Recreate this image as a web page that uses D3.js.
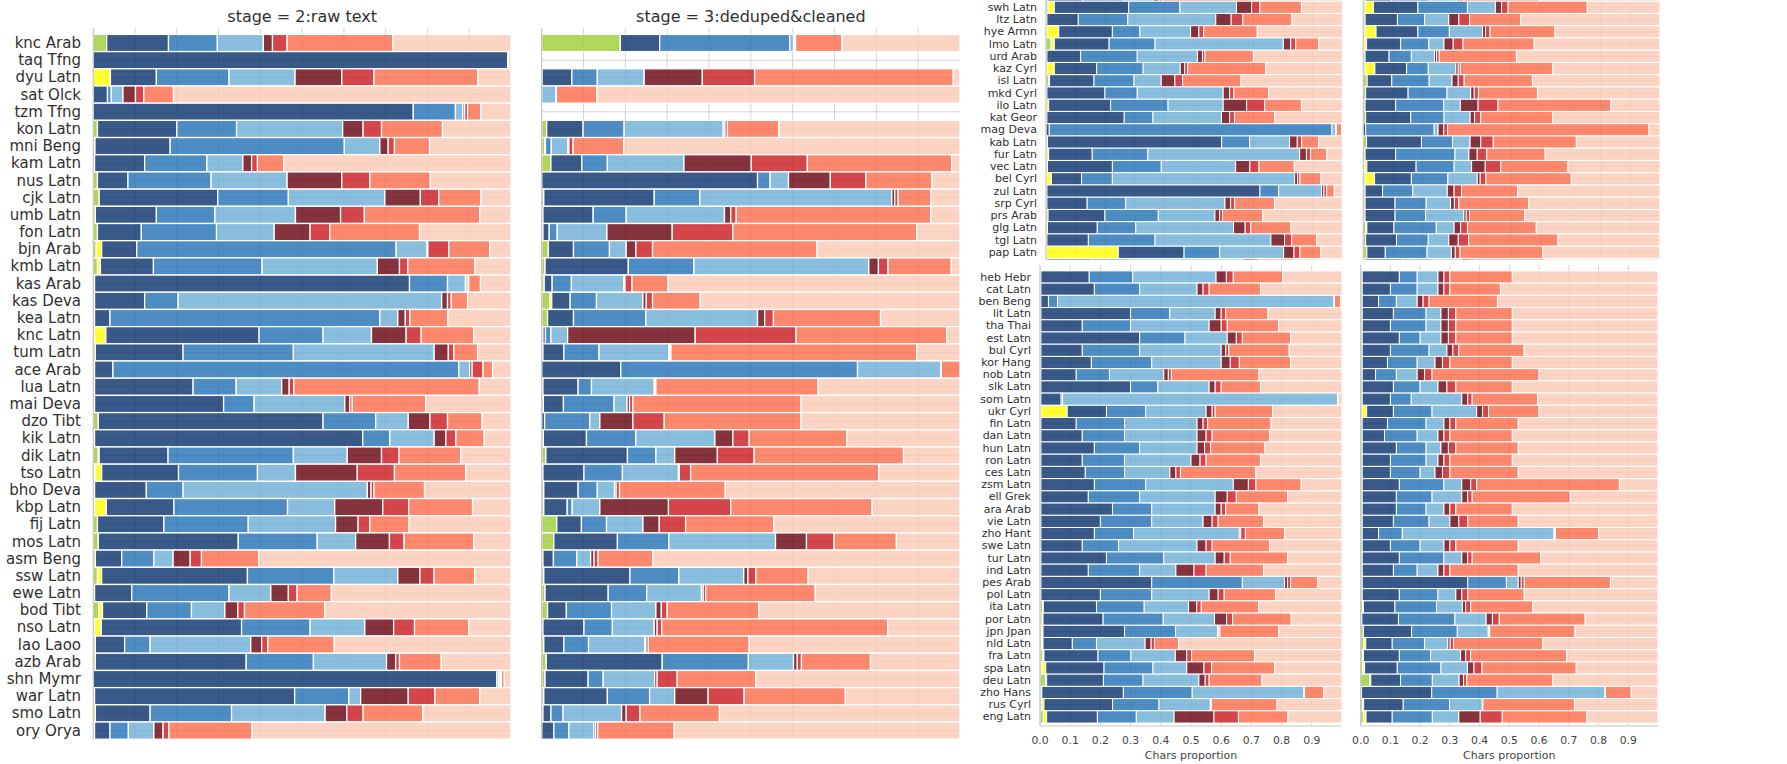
<!DOCTYPE html>
<html>
<head>
<meta charset="utf-8">
<script src="https://cdn.jsdelivr.net/npm/d3@7"></script>
<style>
  body { margin: 0; background: #fff; }
  svg { display: block; }
  text { font-family: "DejaVu Sans", sans-serif; fill: #303030; }
</style>
</head>
<body>
<svg id="chart" width="1787" height="764"></svg>
<script>
// Share of characters per bucket (percent). Each row lists the first eight
// buckets; the ninth bucket is whatever remains up to 100 %.
const bucketColors = ["#9acd32", "#ffff00", "#08306b", "#2171b5", "#6baed6",
                      "#67000d", "#cb181d", "#fb6a4a", "#fbc9b5"];

const lowResourceLabels = [
  "knc Arab", "taq Tfng", "dyu Latn", "sat Olck", "tzm Tfng", "kon Latn", "mni Beng",
  "kam Latn", "nus Latn", "cjk Latn", "umb Latn", "fon Latn", "bjn Arab", "kmb Latn",
  "kas Arab", "kas Deva", "kea Latn", "knc Latn", "tum Latn", "ace Arab", "lua Latn",
  "mai Deva", "dzo Tibt", "kik Latn", "dik Latn", "tso Latn", "bho Deva", "kbp Latn",
  "fij Latn", "mos Latn", "asm Beng", "ssw Latn", "ewe Latn", "bod Tibt", "nso Latn",
  "lao Laoo", "azb Arab", "shn Mymr", "war Latn", "smo Latn", "ory Orya"
];

const rawTextShares = [
  [3.2, 0, 14.8, 11.7, 11.0, 2.2, 3.5, 25.3],
  [0, 0, 99.2, 0.1, 0.1, 0, 0, 0],
  [0, 4.1, 11.0, 17.4, 15.8, 11.2, 7.7, 24.9],
  [0, 0, 3.4, 0.9, 2.8, 3.0, 2.0, 7.1],
  [0, 0, 76.6, 10.1, 1.8, 0.4, 0.7, 3.2],
  [1.0, 0, 19.0, 14.3, 25.4, 4.9, 4.4, 14.6],
  [0.4, 0, 18.0, 41.7, 8.5, 2.0, 1.5, 8.4],
  [0.3, 0, 12.0, 14.9, 8.6, 2.1, 1.4, 6.3],
  [1.0, 0, 7.3, 19.9, 18.2, 13.1, 6.7, 14.5],
  [1.4, 0, 28.4, 16.9, 23.1, 8.5, 4.4, 10.1],
  [0.5, 0, 14.6, 14.0, 19.3, 10.8, 5.7, 27.6],
  [1.0, 0, 10.5, 18.0, 13.8, 8.6, 4.7, 21.5],
  [0.7, 1.3, 8.4, 62.1, 7.4, 0.2, 5.0, 9.8],
  [1.0, 0.7, 12.7, 26.0, 27.6, 5.3, 2.0, 16.1],
  [0.3, 0, 75.4, 9.1, 4.3, 0.4, 0.4, 2.8],
  [0.3, 0, 12.0, 8.0, 63.1, 1.4, 0.9, 3.9],
  [0.3, 0, 3.7, 64.6, 4.3, 1.8, 1.1, 9.1],
  [0.3, 2.7, 36.7, 15.3, 11.6, 8.3, 3.6, 12.6],
  [0.5, 0, 21.0, 26.4, 33.7, 3.4, 1.3, 5.7],
  [0.3, 0, 4.4, 82.8, 2.6, 0.6, 2.6, 2.3],
  [0.3, 0, 23.6, 10.3, 10.9, 1.8, 1.1, 44.4],
  [0.3, 0, 30.9, 7.3, 21.7, 1.2, 0.6, 17.6],
  [1.2, 0, 53.8, 12.6, 7.8, 5.2, 4.2, 8.3],
  [0.3, 0, 64.2, 6.5, 10.6, 2.8, 2.4, 6.8],
  [1.2, 0.2, 16.5, 30.0, 12.9, 8.2, 4.2, 14.8],
  [0.4, 1.6, 18.4, 18.9, 9.1, 14.8, 8.9, 17.1],
  [0.3, 0, 12.4, 8.8, 44.1, 0.9, 0.7, 12.1],
  [0.3, 2.8, 16.2, 27.2, 11.3, 11.5, 6.2, 15.3],
  [1.0, 0, 15.9, 20.2, 20.9, 5.4, 2.8, 9.4],
  [1.2, 0, 33.5, 18.9, 9.2, 8.1, 3.5, 16.7],
  [0.5, 0, 6.3, 7.7, 4.6, 4.1, 2.7, 13.7],
  [1.0, 1.0, 34.9, 20.7, 15.3, 5.3, 3.4, 9.7],
  [0.3, 0, 8.9, 23.3, 10.0, 4.2, 2.1, 8.2],
  [1.3, 0.9, 10.6, 10.7, 8.0, 3.1, 1.6, 19.2],
  [0.3, 1.6, 33.6, 16.4, 13.1, 6.9, 5.0, 13.0],
  [0.5, 0, 7.0, 6.1, 24.1, 2.6, 1.5, 15.9],
  [0.5, 0, 36.1, 16.1, 17.5, 2.2, 0.9, 10.0],
  [0, 0, 96.6, 0.4, 0.4, 0.1, 0.2, 0.7],
  [0.3, 0, 47.9, 13.0, 2.8, 11.4, 6.4, 10.7],
  [0.5, 0, 13.1, 19.5, 22.4, 5.2, 3.9, 14.3],
  [0.3, 0, 3.7, 4.4, 6.1, 2.2, 1.4, 19.9]
];

const cleanedShares = [
  [18.8, 0, 9.4, 31.1, 0.9, 0.2, 0.3, 11.1],
  null,
  [0.1, 0, 7.1, 6.1, 11.2, 13.9, 12.5, 47.5],
  [0, 0, 0, 0, 3.4, 0, 0.1, 9.7],
  null,
  [1.2, 0, 8.7, 9.8, 23.7, 0.4, 0.6, 12.3],
  [0.7, 0, 0.2, 1.4, 4.0, 0.2, 1.0, 12.1],
  [2.2, 0, 7.4, 6.1, 18.3, 16.1, 13.4, 34.5],
  [0, 0, 51.6, 3.0, 4.4, 10.0, 8.5, 15.8],
  [0.5, 0, 26.4, 10.9, 45.9, 0.7, 0.8, 7.9],
  [0.3, 0, 12.0, 7.9, 23.5, 1.5, 1.3, 46.5],
  [0.3, 0, 1.5, 1.9, 11.9, 15.6, 14.5, 44.0],
  [1.6, 0, 6.0, 8.6, 4.0, 2.3, 4.0, 39.3],
  [0.8, 0, 19.9, 15.7, 41.8, 2.3, 2.3, 15.1],
  [0.6, 0, 1.9, 4.6, 12.5, 0.3, 1.7, 8.6],
  [1.9, 0.5, 4.4, 6.3, 11.1, 0.8, 1.5, 11.4],
  [1.4, 0, 6.2, 17.3, 26.7, 1.7, 2.1, 25.6],
  [0.3, 0, 0.6, 1.3, 4.0, 30.5, 24.1, 36.0],
  [0.3, 0, 5.0, 8.4, 16.7, 0.2, 0.3, 58.8],
  [0, 0, 18.9, 56.6, 19.9, 0.05, 0.05, 4.5],
  [0.3, 0, 8.4, 3.2, 15.0, 0.1, 0.3, 38.8],
  [0.4, 0, 4.8, 12.1, 3.1, 0.6, 0.8, 40.2],
  [0, 0, 0.7, 10.8, 2.4, 7.9, 7.5, 32.7],
  [0.4, 0, 10.3, 11.8, 18.9, 4.3, 3.9, 23.4],
  [1.0, 0, 19.5, 6.8, 4.5, 10.2, 8.8, 35.7],
  [0.3, 0, 9.8, 9.2, 13.4, 0.2, 2.7, 45.0],
  [0.5, 0, 8.2, 4.6, 4.1, 0.4, 0.8, 25.3],
  [0.5, 0, 5.6, 1.2, 6.6, 16.4, 14.9, 33.8],
  [3.6, 0, 5.9, 6.0, 8.7, 3.9, 6.3, 21.1],
  [2.9, 0, 15.2, 12.3, 25.5, 7.4, 6.6, 14.9],
  [0.3, 0, 2.5, 5.6, 3.3, 0.8, 1.0, 13.1],
  [0.5, 0, 20.6, 11.7, 15.5, 1.0, 1.9, 12.5],
  [0.8, 0, 15.1, 9.2, 13.1, 0.4, 0.6, 26.2],
  [1.4, 0, 4.5, 10.8, 10.6, 1.3, 1.4, 21.9],
  [0.3, 0, 9.8, 6.8, 10.0, 0.7, 1.1, 54.0],
  [0.5, 0, 4.8, 5.9, 13.4, 0.3, 0.6, 24.1],
  [1.1, 0, 27.7, 20.6, 10.8, 0.9, 1.0, 16.5],
  [0.8, 0, 10.3, 3.6, 12.3, 0.6, 4.8, 18.8],
  [0.5, 0, 15.2, 10.1, 6.0, 8.0, 8.6, 24.2],
  [0.3, 0, 1.9, 2.9, 14.0, 1.1, 3.3, 19.0],
  [0, 0, 2.9, 3.6, 6.0, 0.4, 0.5, 18.3]
];

const midResourceLabels = [
  "", "swh Latn", "ltz Latn", "hye Armn", "lmo Latn", "urd Arab", "kaz Cyrl", "isl Latn",
  "mkd Cyrl", "ilo Latn", "kat Geor", "mag Deva", "kab Latn", "fur Latn", "vec Latn",
  "bel Cyrl", "zul Latn", "srp Cyrl", "prs Arab", "glg Latn", "tgl Latn", "pap Latn", ""
];

const midRawShares = [
  [0.3, 0, 12.0, 14.0, 10.0, 2.0, 1.0, 30.0],
  [0.7, 2.1, 25.1, 17.3, 19.1, 5.1, 2.8, 14.0],
  [0.3, 0, 10.6, 16.7, 29.7, 5.2, 3.9, 16.6],
  [0.3, 4.0, 18.1, 9.3, 17.1, 2.8, 1.6, 18.1],
  [1.7, 1.1, 18.5, 15.5, 43.3, 2.5, 1.7, 7.7],
  [0.3, 0, 11.4, 19.1, 20.3, 1.7, 0.8, 16.4],
  [0.3, 2.5, 14.3, 15.7, 12.5, 1.5, 1.0, 26.4],
  [1.0, 0.2, 15.0, 13.5, 9.2, 4.6, 2.6, 19.7],
  [0.3, 0, 19.6, 10.9, 29.0, 2.2, 1.4, 11.7],
  [0.1, 0.8, 20.9, 19.4, 18.6, 7.9, 6.1, 12.4],
  [0.3, 0, 26.1, 9.7, 23.1, 2.8, 1.6, 13.6],
  [0, 0, 1.1, 95.4, 1.3, 0.1, 0.1, 1.8],
  [0.5, 0, 58.8, 9.4, 13.5, 2.6, 1.5, 5.7],
  [0.2, 0.7, 14.7, 18.8, 51.2, 2.3, 1.4, 5.5],
  [0.5, 0, 21.9, 16.5, 25.1, 4.8, 3.1, 11.9],
  [0.2, 1.6, 10.2, 10.4, 61.5, 1.0, 0.8, 7.1],
  [0.3, 0, 71.9, 6.3, 14.5, 0.8, 0.9, 2.6],
  [0.3, 0, 13.6, 13.0, 33.5, 1.9, 1.4, 13.4],
  [0.7, 0, 19.2, 18.0, 19.1, 1.6, 1.0, 13.6],
  [0.5, 0, 16.8, 13.0, 33.0, 3.9, 1.9, 13.6],
  [0.3, 0, 14.0, 22.5, 39.1, 4.6, 2.4, 8.4],
  [0.2, 24.2, 22.2, 12.0, 21.6, 3.5, 2.0, 7.1],
  [0.3, 0, 15.1, 12.8, 38.3, 4.0, 1.5, 11.6]
];

const midCleanedShares = [
  [0.5, 0, 9.0, 13.0, 9.0, 1.0, 1.0, 26.0],
  [0.6, 2.8, 15.0, 16.7, 9.4, 2.1, 2.2, 26.7],
  [0.6, 0, 10.9, 9.2, 8.1, 3.4, 3.6, 17.2],
  [0.6, 3.7, 14.1, 10.6, 11.2, 1.0, 1.5, 21.9],
  [0.4, 0.7, 11.5, 9.5, 5.1, 3.1, 3.3, 24.0],
  [0.6, 0, 8.1, 7.5, 7.8, 0.7, 0.9, 26.0],
  [0.6, 3.3, 10.7, 7.3, 9.3, 0.8, 0.7, 31.2],
  [1.3, 0, 8.3, 12.6, 7.7, 2.1, 2.0, 23.0],
  [0.8, 0, 14.3, 13.1, 8.0, 1.2, 1.4, 19.9],
  [0.6, 0, 10.3, 16.2, 5.6, 6.0, 6.7, 38.1],
  [0.8, 0, 15.2, 11.2, 8.8, 1.5, 2.1, 24.2],
  [0, 0, 0.8, 23.1, 1.3, 1.9, 1.3, 67.9],
  [1.1, 0, 18.5, 10.5, 5.9, 3.6, 4.2, 28.0],
  [0.6, 0, 10.3, 20.0, 4.7, 2.8, 3.2, 19.7],
  [0.4, 0.8, 16.6, 12.8, 5.9, 4.6, 5.2, 22.7],
  [0.6, 3.2, 12.4, 12.3, 9.9, 1.0, 1.9, 28.8],
  [0.6, 0, 5.9, 10.2, 11.6, 2.3, 2.5, 18.9],
  [0.6, 0, 10.1, 10.5, 8.2, 1.3, 1.5, 23.6],
  [0.6, 0, 10.1, 10.3, 12.9, 0.8, 1.1, 18.6],
  [0.8, 0.4, 9.1, 14.3, 6.0, 2.2, 2.3, 23.2],
  [0.8, 0, 10.4, 10.7, 6.9, 3.2, 3.5, 30.1],
  [1.2, 0, 6.2, 14.1, 8.2, 1.3, 1.6, 27.8],
  [0.6, 0, 12.6, 10.1, 9.8, 2.4, 2.0, 23.9]
];

const highResourceLabels = [
  "heb Hebr", "cat Latn", "ben Beng", "lit Latn", "tha Thai", "est Latn", "bul Cyrl",
  "kor Hang", "nob Latn", "slk Latn", "som Latn", "ukr Cyrl", "fin Latn", "dan Latn",
  "hun Latn", "ron Latn", "ces Latn", "zsm Latn", "ell Grek", "ara Arab", "vie Latn",
  "zho Hant", "swe Latn", "tur Latn", "ind Latn", "pes Arab", "pol Latn", "ita Latn",
  "por Latn", "jpn Jpan", "nld Latn", "fra Latn", "spa Latn", "deu Latn", "zho Hans",
  "rus Cyrl", "eng Latn"
];

const highRawShares = [
  [0.3, 0, 16.0, 14.4, 27.6, 3.4, 2.3, 16.3],
  [0.3, 0, 17.7, 15.0, 19.0, 2.0, 2.0, 17.0],
  [0.3, 0, 2.5, 3.0, 91.5, 0, 0.2, 2.0],
  [0.3, 0, 29.7, 13.0, 15.0, 2.0, 1.5, 14.0],
  [0.3, 0, 13.7, 16.0, 26.0, 4.0, 2.0, 17.0],
  [0.3, 0, 32.7, 15.0, 14.0, 3.0, 2.0, 16.0],
  [0.3, 0, 13.7, 19.0, 27.0, 1.5, 1.0, 20.0],
  [0.3, 0, 16.7, 20.0, 23.0, 3.0, 3.0, 17.0],
  [0.3, 0, 11.7, 11.0, 18.0, 1.5, 1.0, 29.0],
  [0.3, 0, 29.7, 9.0, 17.0, 2.0, 2.0, 13.0],
  [0.3, 0, 6.7, 0.5, 91.0, 0, 0, 0.2],
  [0.3, 8.7, 13.0, 13.0, 20.0, 2.0, 1.0, 19.0],
  [0.3, 0, 11.7, 16.0, 24.0, 2.0, 1.5, 21.0],
  [0.3, 0, 13.7, 14.0, 24.0, 3.0, 2.0, 19.0],
  [0.3, 0, 17.7, 15.0, 19.0, 2.5, 2.0, 18.0],
  [0.3, 0, 13.7, 14.0, 22.0, 3.0, 2.0, 18.0],
  [0.3, 0, 14.7, 13.0, 15.0, 2.0, 1.5, 25.0],
  [0.3, 0, 17.7, 17.0, 29.0, 5.0, 2.5, 15.0],
  [0.3, 0, 15.7, 17.0, 25.0, 4.0, 3.0, 17.0],
  [0.3, 0, 23.7, 13.0, 21.0, 2.0, 1.5, 11.0],
  [0.3, 0, 19.7, 17.0, 17.0, 3.0, 2.0, 15.0],
  [0.3, 0, 17.7, 13.0, 35.0, 0.5, 1.5, 13.0],
  [0.3, 0, 13.7, 12.0, 26.0, 3.0, 2.0, 19.0],
  [0.3, 0, 21.7, 19.0, 17.0, 3.0, 2.0, 19.0],
  [0.3, 0, 15.7, 17.0, 12.0, 6.0, 4.0, 19.0],
  [0.3, 0, 36.7, 30.0, 14.0, 1.0, 1.0, 9.0],
  [0.3, 0, 19.7, 17.0, 19.0, 3.0, 2.0, 17.0],
  [0.8, 0.3, 17.6, 15.8, 14.7, 2.7, 1.5, 19.0],
  [0.7, 0.3, 19.9, 19.9, 17.0, 4.0, 2.0, 19.4],
  [0.6, 0.4, 27.0, 16.9, 13.9, 0.4, 0.4, 19.5],
  [0.6, 0.4, 9.7, 8.0, 16.1, 2.0, 1.1, 8.0],
  [0.9, 0.4, 17.9, 10.9, 14.7, 3.8, 1.6, 20.9],
  [0.6, 1.3, 19.3, 16.2, 11.2, 5.7, 2.5, 20.9],
  [1.8, 0.4, 18.8, 13.1, 18.5, 2.1, 1.3, 17.5],
  [0.4, 0.2, 27.0, 22.8, 37.0, 0.1, 0.1, 6.4],
  [0.5, 0.8, 22.7, 15.4, 17.0, 0.2, 0.2, 21.7],
  [1.1, 1.1, 16.8, 12.9, 12.5, 13.2, 8.1, 16.4]
];

const highCleanedShares = [
  [0.5, 0, 12.5, 6.0, 7.0, 2.0, 2.0, 21.0],
  [0.5, 0, 9.5, 9.0, 7.0, 2.0, 2.0, 17.0],
  [0.5, 0, 5.5, 6.0, 7.0, 2.0, 2.0, 23.0],
  [0.5, 0, 10.5, 11.0, 5.0, 2.5, 2.5, 19.0],
  [0.5, 0, 9.5, 12.0, 5.0, 2.5, 2.5, 19.0],
  [0.5, 0, 12.5, 7.0, 7.0, 2.5, 2.5, 19.0],
  [0.5, 0, 9.5, 13.0, 6.0, 2.0, 2.0, 22.0],
  [0.5, 0, 8.5, 10.0, 6.0, 2.5, 2.5, 21.0],
  [0.5, 0, 4.5, 7.0, 7.0, 2.5, 2.5, 36.0],
  [0.5, 0, 10.5, 9.0, 6.0, 3.0, 3.0, 19.0],
  [0.5, 0, 9.5, 7.0, 17.0, 2.0, 1.5, 22.0],
  [0.5, 1.5, 9.0, 13.0, 15.0, 2.0, 2.0, 17.0],
  [0.5, 0, 8.5, 13.0, 6.0, 2.0, 2.0, 21.0],
  [0.5, 0, 7.5, 11.0, 7.0, 2.0, 2.0, 21.0],
  [0.5, 0, 11.5, 10.0, 5.0, 2.5, 2.5, 21.0],
  [0.5, 0, 9.5, 12.0, 4.0, 2.0, 2.0, 21.0],
  [0.5, 0, 9.5, 10.0, 5.0, 2.5, 2.5, 23.0],
  [0.5, 0, 12.5, 15.0, 6.0, 3.0, 2.0, 48.0],
  [0.5, 0, 11.5, 12.0, 10.0, 2.0, 1.5, 33.0],
  [0.5, 0, 11.5, 10.0, 6.0, 2.0, 2.0, 19.0],
  [0.5, 0, 10.5, 12.0, 7.0, 3.0, 3.0, 17.0],
  [0.5, 0, 5.5, 8.0, 51.0, 0.2, 0.3, 14.5],
  [0.5, 0, 9.5, 10.0, 8.0, 2.0, 2.0, 21.0],
  [0.5, 0, 12.5, 15.0, 6.0, 2.0, 1.5, 23.0],
  [0.5, 0, 10.5, 8.0, 7.0, 2.0, 2.0, 23.0],
  [0.5, 0, 35.5, 13.0, 4.0, 1.0, 1.0, 29.0],
  [0.5, 0, 12.5, 13.0, 6.0, 2.0, 2.0, 19.0],
  [0.6, 0.3, 10.6, 14.0, 8.7, 1.1, 1.7, 20.9],
  [0.4, 0, 12.3, 19.0, 10.5, 2.1, 2.3, 28.9],
  [0.9, 0, 16.2, 15.4, 10.4, 0.2, 0.3, 28.7],
  [1.0, 0.7, 8.9, 10.9, 7.8, 0.8, 1.1, 30.1],
  [0.6, 0.3, 12.1, 10.5, 10.1, 1.7, 1.7, 32.3],
  [0.7, 0.6, 11.0, 14.7, 8.9, 2.2, 2.7, 31.7],
  [3.0, 0.4, 10.0, 10.7, 9.0, 1.5, 1.1, 28.8],
  [0.3, 0, 23.6, 22.0, 36.3, 0.05, 0.05, 8.7],
  [0.7, 0.3, 13.3, 15.6, 11.0, 0.1, 0.1, 30.8],
  [0.9, 0.9, 8.8, 13.5, 8.9, 7.2, 7.4, 28.5]
];

const xTickValues = [0, 0.1, 0.2, 0.3, 0.4, 0.5, 0.6, 0.7, 0.8, 0.9];
const xAxisTitle = "Chars proportion";

const svg = d3.select("#chart");
let clipCount = 0;

function drawPanel(cfg) {
  const g = svg.append("g");
  if (cfg.clip) {
    const id = "clip" + (clipCount++);
    svg.append("clipPath").attr("id", id).append("rect")
      .attr("x", cfg.clip[0]).attr("y", cfg.clip[1])
      .attr("width", cfg.clip[2]).attr("height", cfg.clip[3]);
    g.attr("clip-path", `url(#${id})`);
  }
  const n = cfg.rows.length;
  const x = d3.scaleLinear().domain([0, 1]).range([cfg.x0, cfg.x1]);
  const y = d3.scaleBand().domain(d3.range(n))
    .range([cfg.yFirst - cfg.step / 2, cfg.yFirst - cfg.step / 2 + n * cfg.step])
    .padding(0);

  // grid
  g.append("g").selectAll("line").data(xTickValues.slice(1)).join("line")
    .attr("x1", d => x(d)).attr("x2", d => x(d))
    .attr("y1", cfg.axisTop).attr("y2", cfg.axisBottom)
    .attr("stroke", "#d4d4d4").attr("stroke-width", 1);
  g.append("g").selectAll("line").data(d3.range(n)).join("line")
    .attr("x1", cfg.x0).attr("x2", x(1))
    .attr("y1", i => y(i) + y.bandwidth() / 2).attr("y2", i => y(i) + y.bandwidth() / 2)
    .attr("stroke", "#d4d4d4").attr("stroke-width", 1);

  // stacked bars
  const segs = [];
  cfg.rows.forEach((row, i) => {
    if (!row) return;
    const vals = row.concat([Math.max(0, 100 - d3.sum(row))]);
    let acc = 0;
    vals.forEach((v, k) => {
      if (v > 0) segs.push({ i, k, start: acc / 100, end: (acc + v) / 100 });
      acc += v;
    });
  });
  g.append("g").selectAll("rect").data(segs).join("rect")
    .attr("x", d => x(d.start))
    .attr("width", d => Math.max(0, x(d.end) - x(d.start)))
    .attr("y", d => y(d.i))
    .attr("height", y.bandwidth())
    .attr("fill", d => bucketColors[d.k])
    .attr("fill-opacity", 0.8)
    .attr("stroke", "#ffffff")
    .attr("stroke-width", cfg.edge);

  // left spine
  g.append("line").attr("x1", cfg.x0).attr("x2", cfg.x0)
    .attr("y1", cfg.axisTop).attr("y2", cfg.axisBottom)
    .attr("stroke", "#c4c4c4").attr("stroke-width", 1.2);

  if (cfg.labels) {
    g.append("g").selectAll("text").data(cfg.labels).join("text")
      .attr("x", cfg.labelX)
      .attr("y", (d, i) => y(i) + y.bandwidth() / 2)
      .attr("text-anchor", "end")
      .attr("dominant-baseline", "central")
      .style("font-size", cfg.labelSize + "px")
      .text(d => d);
  }

  if (cfg.title) {
    svg.append("text").attr("x", (cfg.x0 + cfg.x1) / 2).attr("y", 21.5)
      .attr("text-anchor", "middle").style("font-size", "16px").text(cfg.title);
  }

  if (cfg.xAxis) {
    svg.append("line").attr("x1", cfg.x0).attr("x2", x(1))
      .attr("y1", cfg.axisBottom).attr("y2", cfg.axisBottom)
      .attr("stroke", "#c4c4c4").attr("stroke-width", 1.2);
    svg.append("g").selectAll("text").data(xTickValues).join("text")
      .attr("x", d => x(d)).attr("y", cfg.axisBottom + 18)
      .attr("text-anchor", "middle").style("font-size", "10.8px")
      .style("fill", "#444")
      .text(d => d3.format(".1f")(d));
    svg.append("text").attr("x", x(0.5)).attr("y", cfg.axisBottom + 33)
      .attr("text-anchor", "middle").style("font-size", "11px")
      .style("fill", "#444").text(xAxisTitle);
  }
}

// Low-resource languages, both stages
drawPanel({ rows: rawTextShares, labels: lowResourceLabels, labelX: 81, labelSize: 15,
  x0: 93.3, x1: 511, yFirst: 43, step: 17.19, axisTop: 28, axisBottom: 739,
  edge: 1.3, title: "stage = 2:raw text" });
drawPanel({ rows: cleanedShares, x0: 541.7, x1: 960,
  yFirst: 43, step: 17.19, axisTop: 28, axisBottom: 739,
  edge: 1.3, title: "stage = 3:deduped&cleaned" });

// Mid-resource languages
drawPanel({ rows: midRawShares, labels: midResourceLabels, labelX: 1037, labelSize: 11,
  x0: 1046, x1: 1342.3, yFirst: 7.33 - 12.25, step: 12.25, axisTop: 0, axisBottom: 259.5,
  edge: 1, clip: [900, 0, 460, 259.5] });
drawPanel({ rows: midCleanedShares, x0: 1363.3, x1: 1660,
  yFirst: 7.33 - 12.25, step: 12.25, axisTop: 0, axisBottom: 259.5,
  edge: 1, clip: [1355, 0, 320, 259.5] });

// High-resource languages
drawPanel({ rows: highRawShares, labels: highResourceLabels, labelX: 1031, labelSize: 11,
  x0: 1040, x1: 1342, yFirst: 277, step: 12.22, axisTop: 265, axisBottom: 726,
  edge: 1, xAxis: true });
drawPanel({ rows: highCleanedShares, x0: 1360.7, x1: 1658,
  yFirst: 277, step: 12.22, axisTop: 265, axisBottom: 726,
  edge: 1, xAxis: true });
</script>
</body>
</html>
